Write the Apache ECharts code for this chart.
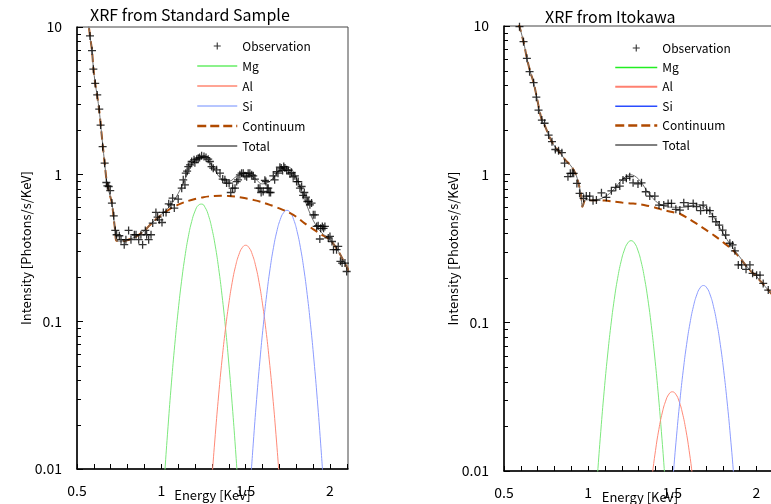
<!DOCTYPE html>
<html><head><meta charset="utf-8">
<script src="https://cdn.jsdelivr.net/npm/echarts@6/dist/echarts.min.js"></script>
<style>html,body{margin:0;padding:0;background:#fff}#c{width:771px;height:504px}</style>
</head><body><div id="c"></div>
<script>
// ---------- Data: left panel (Standard Sample) ----------
const leftObsE = [0.577,0.589,0.597,0.608,0.620,0.632,0.640,0.652,0.664,0.674,0.680,0.688,0.697,0.707,0.718,0.727,0.735,0.751,0.761,0.780,0.790,0.806,0.820,0.840,0.850,0.866,0.879,0.889,0.905,0.913,0.925,0.939,0.949,0.968,0.978,0.988,1.004,1.012,1.028,1.044,1.057,1.067,1.077,1.100,1.121,1.130,1.140,1.145,1.153,1.160,1.170,1.180,1.194,1.199,1.210,1.219,1.227,1.239,1.253,1.265,1.278,1.288,1.298,1.308,1.328,1.348,1.364,1.377,1.387,1.402,1.412,1.423,1.437,1.447,1.455,1.466,1.476,1.486,1.496,1.506,1.515,1.525,1.536,1.545,1.555,1.575,1.585,1.592,1.604,1.614,1.620,1.628,1.634,1.640,1.648,1.664,1.672,1.684,1.692,1.703,1.711,1.719,1.726,1.733,1.743,1.753,1.763,1.772,1.782,1.792,1.802,1.812,1.822,1.832,1.841,1.848,1.858,1.866,1.874,1.881,1.891,1.901,1.911,1.921,1.930,1.940,1.945,1.955,1.962,1.970,1.990,2.000,2.012,2.021,2.039,2.049,2.062,2.072,2.089,2.099];
const leftObsI = [8.69,6.91,5.17,4.15,3.46,2.77,2.16,1.54,1.19,0.880,0.836,0.827,0.776,0.638,0.523,0.416,0.389,0.383,0.360,0.333,0.360,0.416,0.360,0.389,0.389,0.360,0.389,0.333,0.416,0.389,0.360,0.389,0.467,0.551,0.513,0.491,0.471,0.551,0.551,0.631,0.621,0.690,0.590,0.679,0.806,0.918,0.849,1.019,1.05,1.129,1.160,1.222,1.254,1.20,1.268,1.288,1.30,1.335,1.321,1.30,1.268,1.222,1.129,1.10,1.073,1.019,0.928,0.918,0.872,0.872,0.753,0.806,0.806,0.893,0.918,0.992,1.019,1.019,0.977,0.962,1.019,1.019,0.992,0.977,0.928,0.806,0.806,0.753,0.766,0.910,0.893,0.806,0.806,0.753,0.753,0.977,0.918,1.045,1.019,1.119,1.102,1.062,1.129,1.102,1.073,1.062,1.008,1.028,0.962,0.977,0.893,0.893,0.806,0.827,0.720,0.753,0.700,0.654,0.654,0.621,0.638,0.531,0.531,0.443,0.448,0.364,0.430,0.443,0.430,0.443,0.370,0.379,0.350,0.308,0.308,0.324,0.257,0.250,0.250,0.219];

const leftContE = [0.562,0.577,0.589,0.597,0.608,0.620,0.632,0.640,0.652,0.664,0.676,0.690,0.707,0.718,0.727,0.733,0.760,0.790,0.820,0.850,0.900,0.950,1.000,1.050,1.100,1.150,1.200,1.250,1.300,1.350,1.400,1.450,1.500,1.550,1.600,1.650,1.700,1.750,1.800,1.850,1.900,1.950,2.000,2.050,2.100,2.120];
const leftContI = [12.0,8.7,6.9,5.3,4.15,3.4,2.7,2.2,1.6,1.19,0.9,0.76,0.638,0.50,0.41,0.355,0.352,0.356,0.365,0.378,0.415,0.475,0.53,0.58,0.622,0.655,0.68,0.70,0.712,0.716,0.713,0.703,0.688,0.668,0.645,0.617,0.588,0.555,0.515,0.465,0.425,0.39,0.36,0.30,0.235,0.212];

const leftTotalE = [0.562,0.577,0.589,0.597,0.608,0.620,0.632,0.640,0.652,0.664,0.676,0.690,0.707,0.718,0.727,0.733,0.760,0.790,0.820,0.850,0.900,0.950,1.000,1.050,1.100,1.150,1.200,1.250,1.300,1.350,1.400,1.450,1.500,1.550,1.600,1.650,1.700,1.750,1.800,1.850,1.900,1.950,2.000,2.050,2.100,2.120];
const leftTotalI = [12.0,8.7,6.9,5.3,4.15,3.4,2.7,2.2,1.6,1.19,0.9,0.76,0.638,0.50,0.41,0.355,0.352,0.356,0.365,0.378,0.415,0.475,0.534,0.608,0.741,0.981,1.243,1.317,1.149,0.946,0.897,0.975,1.021,0.949,0.861,0.909,1.07,1.125,0.948,0.673,0.489,0.402,0.362,0.30,0.235,0.212];

const leftMgE = [1.00,1.02,1.04,1.06,1.08,1.10,1.12,1.14,1.16,1.18,1.20,1.22,1.24,1.26,1.28,1.30,1.32,1.34,1.36,1.38,1.40,1.42,1.44,1.46];
const leftMgI = [0.00406,0.00925,0.0195,0.0384,0.0702,0.119,0.188,0.276,0.377,0.478,0.563,0.617,0.628,0.595,0.524,0.428,0.326,0.230,0.151,0.0924,0.0524,0.0277,0.0136,0.0062];
const leftAlE = [1.28,1.30,1.32,1.34,1.36,1.38,1.40,1.42,1.44,1.46,1.48,1.50,1.52,1.54,1.56,1.58,1.60,1.62,1.64,1.66,1.68,1.70,1.72];
const leftAlI = [0.00397,0.00855,0.0171,0.0318,0.0551,0.0886,0.132,0.184,0.2375,0.285,0.318,0.33,0.318,0.285,0.2375,0.184,0.132,0.0886,0.0551,0.0318,0.0171,0.00855,0.00397];
const leftSiE = [1.505,1.525,1.545,1.565,1.585,1.605,1.625,1.645,1.665,1.685,1.705,1.725,1.745,1.765,1.785,1.805,1.825,1.845,1.865,1.885,1.905,1.925,1.945,1.965,1.985];
const leftSiI = [0.00296,0.00686,0.0148,0.0296,0.055,0.0952,0.153,0.2287,0.3177,0.4103,0.4925,0.5495,0.57,0.5495,0.4925,0.4103,0.3177,0.2287,0.153,0.0952,0.055,0.0296,0.0148,0.00686,0.00296];

// ---------- Data: right panel (Itokawa) ----------
const rightObsE = [0.592,0.616,0.636,0.652,0.676,0.692,0.705,0.725,0.741,0.765,0.785,0.805,0.824,0.844,0.860,0.880,0.894,0.906,0.914,0.933,0.949,0.973,0.989,1.009,1.029,1.049,1.079,1.108,1.138,1.164,1.188,1.207,1.227,1.247,1.267,1.296,1.317,1.342,1.366,1.396,1.421,1.449,1.475,1.495,1.521,1.545,1.568,1.594,1.624,1.644,1.668,1.683,1.704,1.723,1.739,1.759,1.779,1.799,1.817,1.842,1.858,1.872,1.892,1.912,1.938,1.961,1.977,2.001,2.021,2.040,2.070];
const rightObsI = [9.89,7.84,6.06,4.92,4.15,3.31,2.71,2.32,2.21,1.84,1.66,1.47,1.44,1.40,1.19,0.964,1.016,1.016,1.016,0.869,0.745,0.689,0.714,0.714,0.664,0.671,0.751,0.700,0.774,0.817,0.834,0.916,0.940,0.964,0.877,0.861,0.877,0.763,0.714,0.714,0.621,0.621,0.637,0.637,0.581,0.574,0.644,0.611,0.637,0.605,0.569,0.621,0.574,0.569,0.518,0.479,0.455,0.421,0.390,0.343,0.334,0.305,0.245,0.245,0.229,0.245,0.215,0.209,0.209,0.184,0.166];

const rightContE = [0.588,0.616,0.636,0.656,0.676,0.695,0.710,0.725,0.745,0.765,0.795,0.835,0.864,0.894,0.924,0.943,0.958,0.966,0.985,1.050,1.100,1.150,1.200,1.250,1.300,1.350,1.400,1.450,1.500,1.550,1.600,1.650,1.700,1.750,1.800,1.850,1.900,1.950,2.000,2.050,2.100,2.120];
const rightContI = [10.3,7.84,6.06,4.92,4.15,3.30,2.72,2.32,2.10,1.84,1.58,1.39,1.25,1.154,1.016,0.869,0.72,0.605,0.672,0.668,0.665,0.655,0.645,0.637,0.630,0.615,0.596,0.574,0.557,0.538,0.500,0.460,0.422,0.386,0.350,0.315,0.275,0.233,0.205,0.176,0.152,0.145];

const rightTotalE = [0.588,0.616,0.636,0.656,0.676,0.695,0.710,0.725,0.745,0.765,0.795,0.835,0.864,0.894,0.924,0.943,0.958,0.966,0.985,1.050,1.100,1.150,1.200,1.250,1.300,1.350,1.400,1.450,1.500,1.550,1.600,1.650,1.700,1.750,1.800,1.850,1.900,1.950,2.000,2.050,2.100,2.120];
const rightTotalI = [10.3,7.84,6.06,4.92,4.15,3.30,2.72,2.32,2.10,1.84,1.58,1.39,1.25,1.154,1.016,0.869,0.72,0.605,0.672,0.676,0.707,0.785,0.916,0.994,0.927,0.772,0.661,0.613,0.600,0.599,0.606,0.623,0.596,0.507,0.403,0.330,0.278,0.234,0.205,0.176,0.152,0.145];

const rightMgE = [1.015,1.035,1.055,1.075,1.095,1.115,1.135,1.155,1.175,1.195,1.215,1.235,1.255,1.275,1.295,1.315,1.335,1.355,1.375,1.395,1.415,1.435,1.455,1.475,1.495];
const rightMgI = [0.00185,0.00429,0.00925,0.0185,0.0345,0.0596,0.0959,0.1432,0.199,0.257,0.3085,0.3442,0.357,0.3442,0.3085,0.257,0.199,0.1432,0.0959,0.0596,0.0345,0.0185,0.00925,0.00429,0.00185];
const rightAlE = [1.36,1.38,1.40,1.42,1.44,1.46,1.48,1.50,1.52,1.54,1.56,1.58,1.60,1.62,1.64];
const rightAlI = [0.00571,0.00918,0.01372,0.01906,0.02462,0.02955,0.0330,0.0342,0.0330,0.02955,0.02462,0.01906,0.01372,0.00918,0.00571];
const rightSiE = [1.465,1.485,1.505,1.525,1.545,1.565,1.585,1.605,1.625,1.645,1.665,1.685,1.705,1.725,1.745,1.765,1.785,1.805,1.825,1.845,1.865,1.885,1.905];
const rightSiI = [0.00214,0.00461,0.00924,0.01718,0.0297,0.0478,0.0714,0.0992,0.1281,0.1538,0.1716,0.178,0.1716,0.1538,0.1281,0.0992,0.0714,0.0478,0.0297,0.01718,0.00924,0.00461,0.00214];

// ---------- Axis ticks / labels ----------
const titles = ['XRF from Standard Sample', 'XRF from Itokawa'];
const xTickLabels = [0.5, 1, 1.5, 2];
const yMinorTicks = [0.02,0.03,0.04,0.05,0.06,0.07,0.08,0.09,0.2,0.3,0.4,0.5,0.6,0.7,0.8,0.9,2,3,4,5,6,7,8,9];

// ---------- Build ----------
const FONT = '"Noto Sans CJK JP", "Noto Sans", sans-serif';
const zip = (a, b) => a.map((x, i) => [x, b[i]]);
const PLUS = 'path://M4.2,0 H5.8 V4.2 H10 V5.8 H5.8 V10 H4.2 V5.8 H0 V4.2 H4.2 Z';
const PLUS_LEG = 'path://M0,0 M20,20 M9.2,5 H10.8 V9.2 H15 V10.8 H10.8 V15 H9.2 V10.8 H5 V9.2 H9.2 Z';

const panels = [
  {obs: zip(leftObsE, leftObsI), cont: zip(leftContE, leftContI), total: zip(leftTotalE, leftTotalI),
   mg: zip(leftMgE, leftMgI), al: zip(leftAlE, leftAlI), si: zip(leftSiE, leftSiI)},
  {obs: zip(rightObsE, rightObsI), cont: zip(rightContE, rightContI), total: zip(rightTotalE, rightTotalI),
   mg: zip(rightMgE, rightMgI), al: zip(rightAlE, rightAlI), si: zip(rightSiE, rightSiI)}
];

const grids = [
  {left: 77, top: 27, width: 271, height: 442},
  {left: 504, top: 26, width: 272, height: 445}
];
const xMax = [2.107, 2.116];

const COL = {mg: '#7de87d', al: '#ff8a78', si: '#8c9cff', cont: '#b04a00', total: '#6e6e6e'};
const legendStyles = [
  {mg: ['#66ee66', 1.5], al: ['#ff4a2a', 1], si: ['#6f8cff', 1]},
  {mg: ['#22ee22', 1.5], al: ['#ff8070', 2], si: ['#2a4cff', 1.5]}
];

const series = [];
panels.forEach((p, i) => {
  const base = {xAxisIndex: i, yAxisIndex: i, clip: true, animation: false};
  const line = (name, data, color, width, extra) => Object.assign({}, base, {
    type: 'line', name, data, showSymbol: false, symbol: 'none',
    lineStyle: {color, width}, itemStyle: {color}
  }, extra || {});
  series.push(line('Mg', p.mg, COL.mg, 1, {smooth: true}));
  series.push(line('Al', p.al, COL.al, 1, {smooth: true}));
  series.push(line('Si', p.si, COL.si, 1, {smooth: true}));
  series.push(line('Continuum', p.cont, COL.cont, 2, {smooth: 0.3, lineStyle: {color: COL.cont, width: 2, type: [8, 5]}}));
  series.push(line('Total', p.total, COL.total, 1, {smooth: 0.4}));
  series.push(Object.assign({}, base, {
    type: 'scatter', name: 'Observation', data: p.obs, symbol: PLUS, symbolSize: 8,
    itemStyle: {color: '#000'}, z: 5
  }));
  series.push(Object.assign({}, base, {
    type: 'custom', silent: true, z: 6,
    data: yMinorTicks.map(v => [0.5, v]), encode: {x: 0, y: 1},
    renderItem: (params, api) => {
      const c = api.coord([api.value(0), api.value(1)]);
      const y = Math.round(c[1]) + 0.5;
      return {type: 'line', shape: {x1: c[0], y1: y, x2: c[0] + 4, y2: y}, style: {stroke: '#000', lineWidth: 1}};
    }
  }));
});

const hideSym = {color: 'rgba(0,0,0,0)', opacity: 0, borderWidth: 0};
const legends = [
  {left: 191, top: 34, itemWidth: 40, itemGap: 6},
  {left: 609, top: 36, itemWidth: 42, itemGap: 5.4}
].map((l, i) => {
  const ls = legendStyles[i];
  return Object.assign({
    orient: 'vertical', itemHeight: 14, selectedMode: false,
    textStyle: {fontSize: 12, color: '#000', fontFamily: FONT, lineHeight: 14},
    data: [
      {name: 'Observation', icon: PLUS_LEG, itemStyle: {color: '#000'}},
      {name: 'Mg', itemStyle: hideSym, lineStyle: {color: ls.mg[0], width: ls.mg[1]}},
      {name: 'Al', itemStyle: hideSym, lineStyle: {color: ls.al[0], width: ls.al[1]}},
      {name: 'Si', itemStyle: hideSym, lineStyle: {color: ls.si[0], width: ls.si[1]}},
      {name: 'Continuum', itemStyle: hideSym, lineStyle: {color: COL.cont, width: 2.5, type: [9, 4]}},
      {name: 'Total', itemStyle: hideSym, lineStyle: {color: '#000', width: 1}}
    ]
  }, l);
});

const xFmt = v => {
  const hit = xTickLabels.find(t => Math.abs(t - v) < 1e-6);
  return hit === undefined ? '' : String(hit);
};

const option = {
  animation: false,
  backgroundColor: '#fff',
  textStyle: {fontFamily: FONT},
  title: [
    {text: titles[0], left: 85, top: 2, textStyle: {fontSize: 16, fontWeight: 'normal', color: '#000', fontFamily: FONT}},
    {text: titles[1], left: 540, top: 4, textStyle: {fontSize: 16, fontWeight: 'normal', color: '#000', fontFamily: FONT}}
  ],
  legend: legends,
  grid: grids.map(g => Object.assign({show: true, borderColor: '#444', borderWidth: 1, containLabel: false, outerBoundsMode: 'none'}, g)),
  xAxis: [0, 1].map(i => ({
    type: 'value', gridIndex: i, min: 0.5, max: xMax[i], interval: 0.1,
    axisLine: {show: true, onZero: false, lineStyle: {color: '#000', width: 1.5}},
    axisTick: {show: true, inside: true, length: 5, lineStyle: {color: '#000'}},
    axisLabel: {formatter: xFmt, fontSize: 14, color: '#000', margin: 15, fontFamily: FONT, showMaxLabel: false},
    splitLine: {show: false},
    name: 'Energy [KeV]', nameLocation: 'middle', nameGap: 20, nameMoveOverlap: false,
    nameTextStyle: {fontSize: 13, color: '#000', fontFamily: FONT}
  })),
  yAxis: [0, 1].map(i => ({
    type: 'log', logBase: 10, gridIndex: i, min: 0.01, max: 10,
    axisLine: {show: true, lineStyle: {color: '#000', width: 1.5}},
    axisTick: {show: true, inside: true, length: 6, lineStyle: {color: '#000'}},
    axisLabel: {fontSize: 14, color: '#000', margin: 15, fontFamily: FONT, formatter: v => String(+(+v).toPrecision(3))},
    splitLine: {show: false},
    name: 'Intensity [Photons/s/KeV]', nameLocation: 'middle', nameGap: 44, nameRotate: 90, nameMoveOverlap: false,
    nameTextStyle: {fontSize: 13, color: '#000', fontFamily: FONT}
  })),
  series
};

const chart = echarts.init(document.getElementById('c'), null, {renderer: 'canvas'});
chart.setOption(option);
</script></body></html>
